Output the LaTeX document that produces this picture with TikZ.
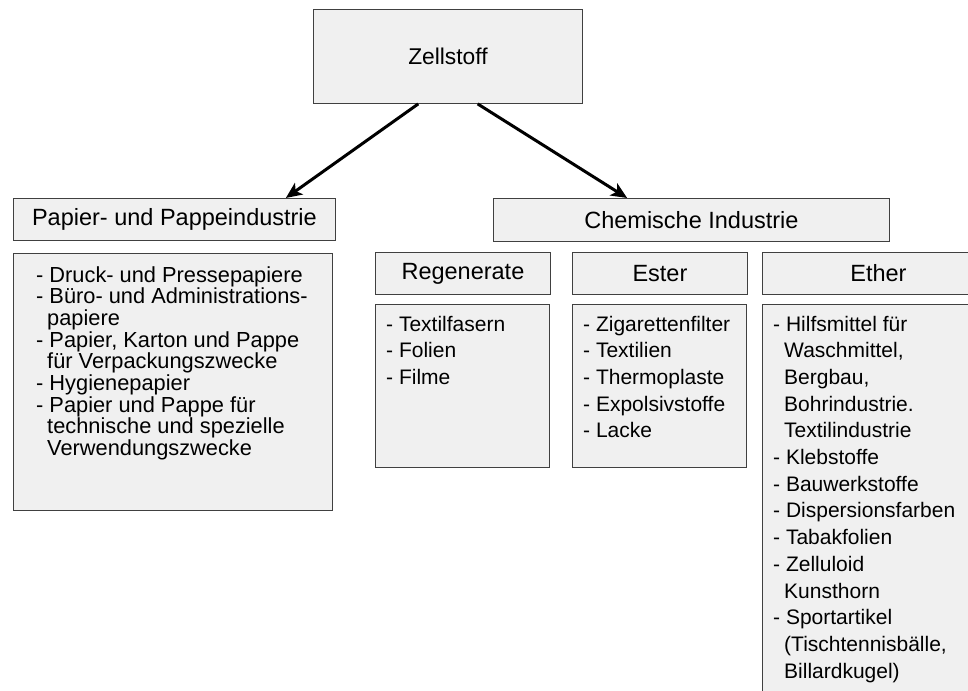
\documentclass[tikz,border=0pt]{standalone}
\usepackage{fontspec}
\setmainfont{Liberation Sans}
\usetikzlibrary{arrows.meta,calc}
\newcommand{\contline}{\hspace*{11pt}}
\begin{document}
\begin{tikzpicture}[x=1pt,y=-1pt,
  box/.style={draw=black!75, line width=0.9pt, fill=black!6, inner sep=0pt, anchor=north west},
  head/.style={box, minimum height=42pt, font=\fontsize{23.5}{28}\selectfont},
  body/.style={box},
  item/.style={anchor=base west, inner sep=0pt, font=\fontsize{21}{26}\selectfont},
  bigitem/.style={item, font=\fontsize{21.8}{26}\selectfont},
  arr/.style={line width=3pt, -{Stealth[length=16pt,width=14pt,inset=4pt]}}]
\useasboundingbox (0,0) rectangle (968,690);
\clip (0,0) rectangle (968,690);

% top box
\node[box, minimum width=269pt, minimum height=94pt,
      font=\fontsize{22.8}{27}\selectfont] (zell) at (313,9) {Zellstoff};

% first level
\node[head, minimum width=322pt] (pap) at (13,198) {Papier- und Pappeindustrie};
\node[head, minimum width=396pt, minimum height=43pt] (chem) at (493,198) {Chemische Industrie};

% second level under the chemical industry
\node[head, minimum width=175pt] (reg) at (375,252) {Regenerate};
\node[head, minimum width=175pt] (est) at (572,252) {Ester};
\node[head, minimum width=232pt] (eth) at (762,252) {Ether};

% content boxes
\node[body, minimum width=319pt, minimum height=257pt] (papb) at (13,253) {};
\node[body, minimum width=174pt, minimum height=163pt] (regb) at (375,304) {};
\node[body, minimum width=174pt, minimum height=163pt] (estb) at (572,304) {};
\node[body, minimum width=232pt, minimum height=420pt] (ethb) at (762,304) {};

% lists
\foreach \t [count=\i] in {
  {- Druck- und Pressepapiere},
  {- Büro- und Administrations-},
  {\contline papiere},
  {- Papier, Karton und Pappe},
  {\contline für Verpackungszwecke},
  {- Hygienepapier},
  {- Papier und Pappe für},
  {\contline technische und spezielle},
  {\contline Verwendungszwecke}}
  \node[bigitem] (papl\i) at (36,{282+21.7*(\i-1)}) {\t};

\foreach \t [count=\i] in {
  {- Textilfasern},
  {- Folien},
  {- Filme}}
  \node[item] (regl\i) at (386,{331+26.7*(\i-1)}) {\t};

\foreach \t [count=\i] in {
  {- Zigarettenfilter},
  {- Textilien},
  {- Thermoplaste},
  {- Expolsivstoffe},
  {- Lacke}}
  \node[item] (estl\i) at (583,{331+26.7*(\i-1)}) {\t};

\foreach \t [count=\i] in {
  {- Hilfsmittel für},
  {\contline Waschmittel,},
  {\contline Bergbau,},
  {\contline Bohrindustrie.},
  {\contline Textilindustrie},
  {- Klebstoffe},
  {- Bauwerkstoffe},
  {- Dispersionsfarben},
  {- Tabakfolien},
  {- Zelluloid},
  {\contline Kunsthorn},
  {- Sportartikel},
  {\contline (Tischtennisbälle,},
  {\contline Billardkugel)}}
  \node[item] (ethl\i) at (773,{331+26.7*(\i-1)}) {\t};

% connectors
\draw[arr] ($(zell.south west)!0.39!(zell.south east)$) -- ($(pap.north west)!0.845!(pap.north east)$);
\draw[arr] ($(zell.south west)!0.61!(zell.south east)$) -- ($(chem.north west)!0.338!(chem.north east)$);
\end{tikzpicture}
\end{document}
